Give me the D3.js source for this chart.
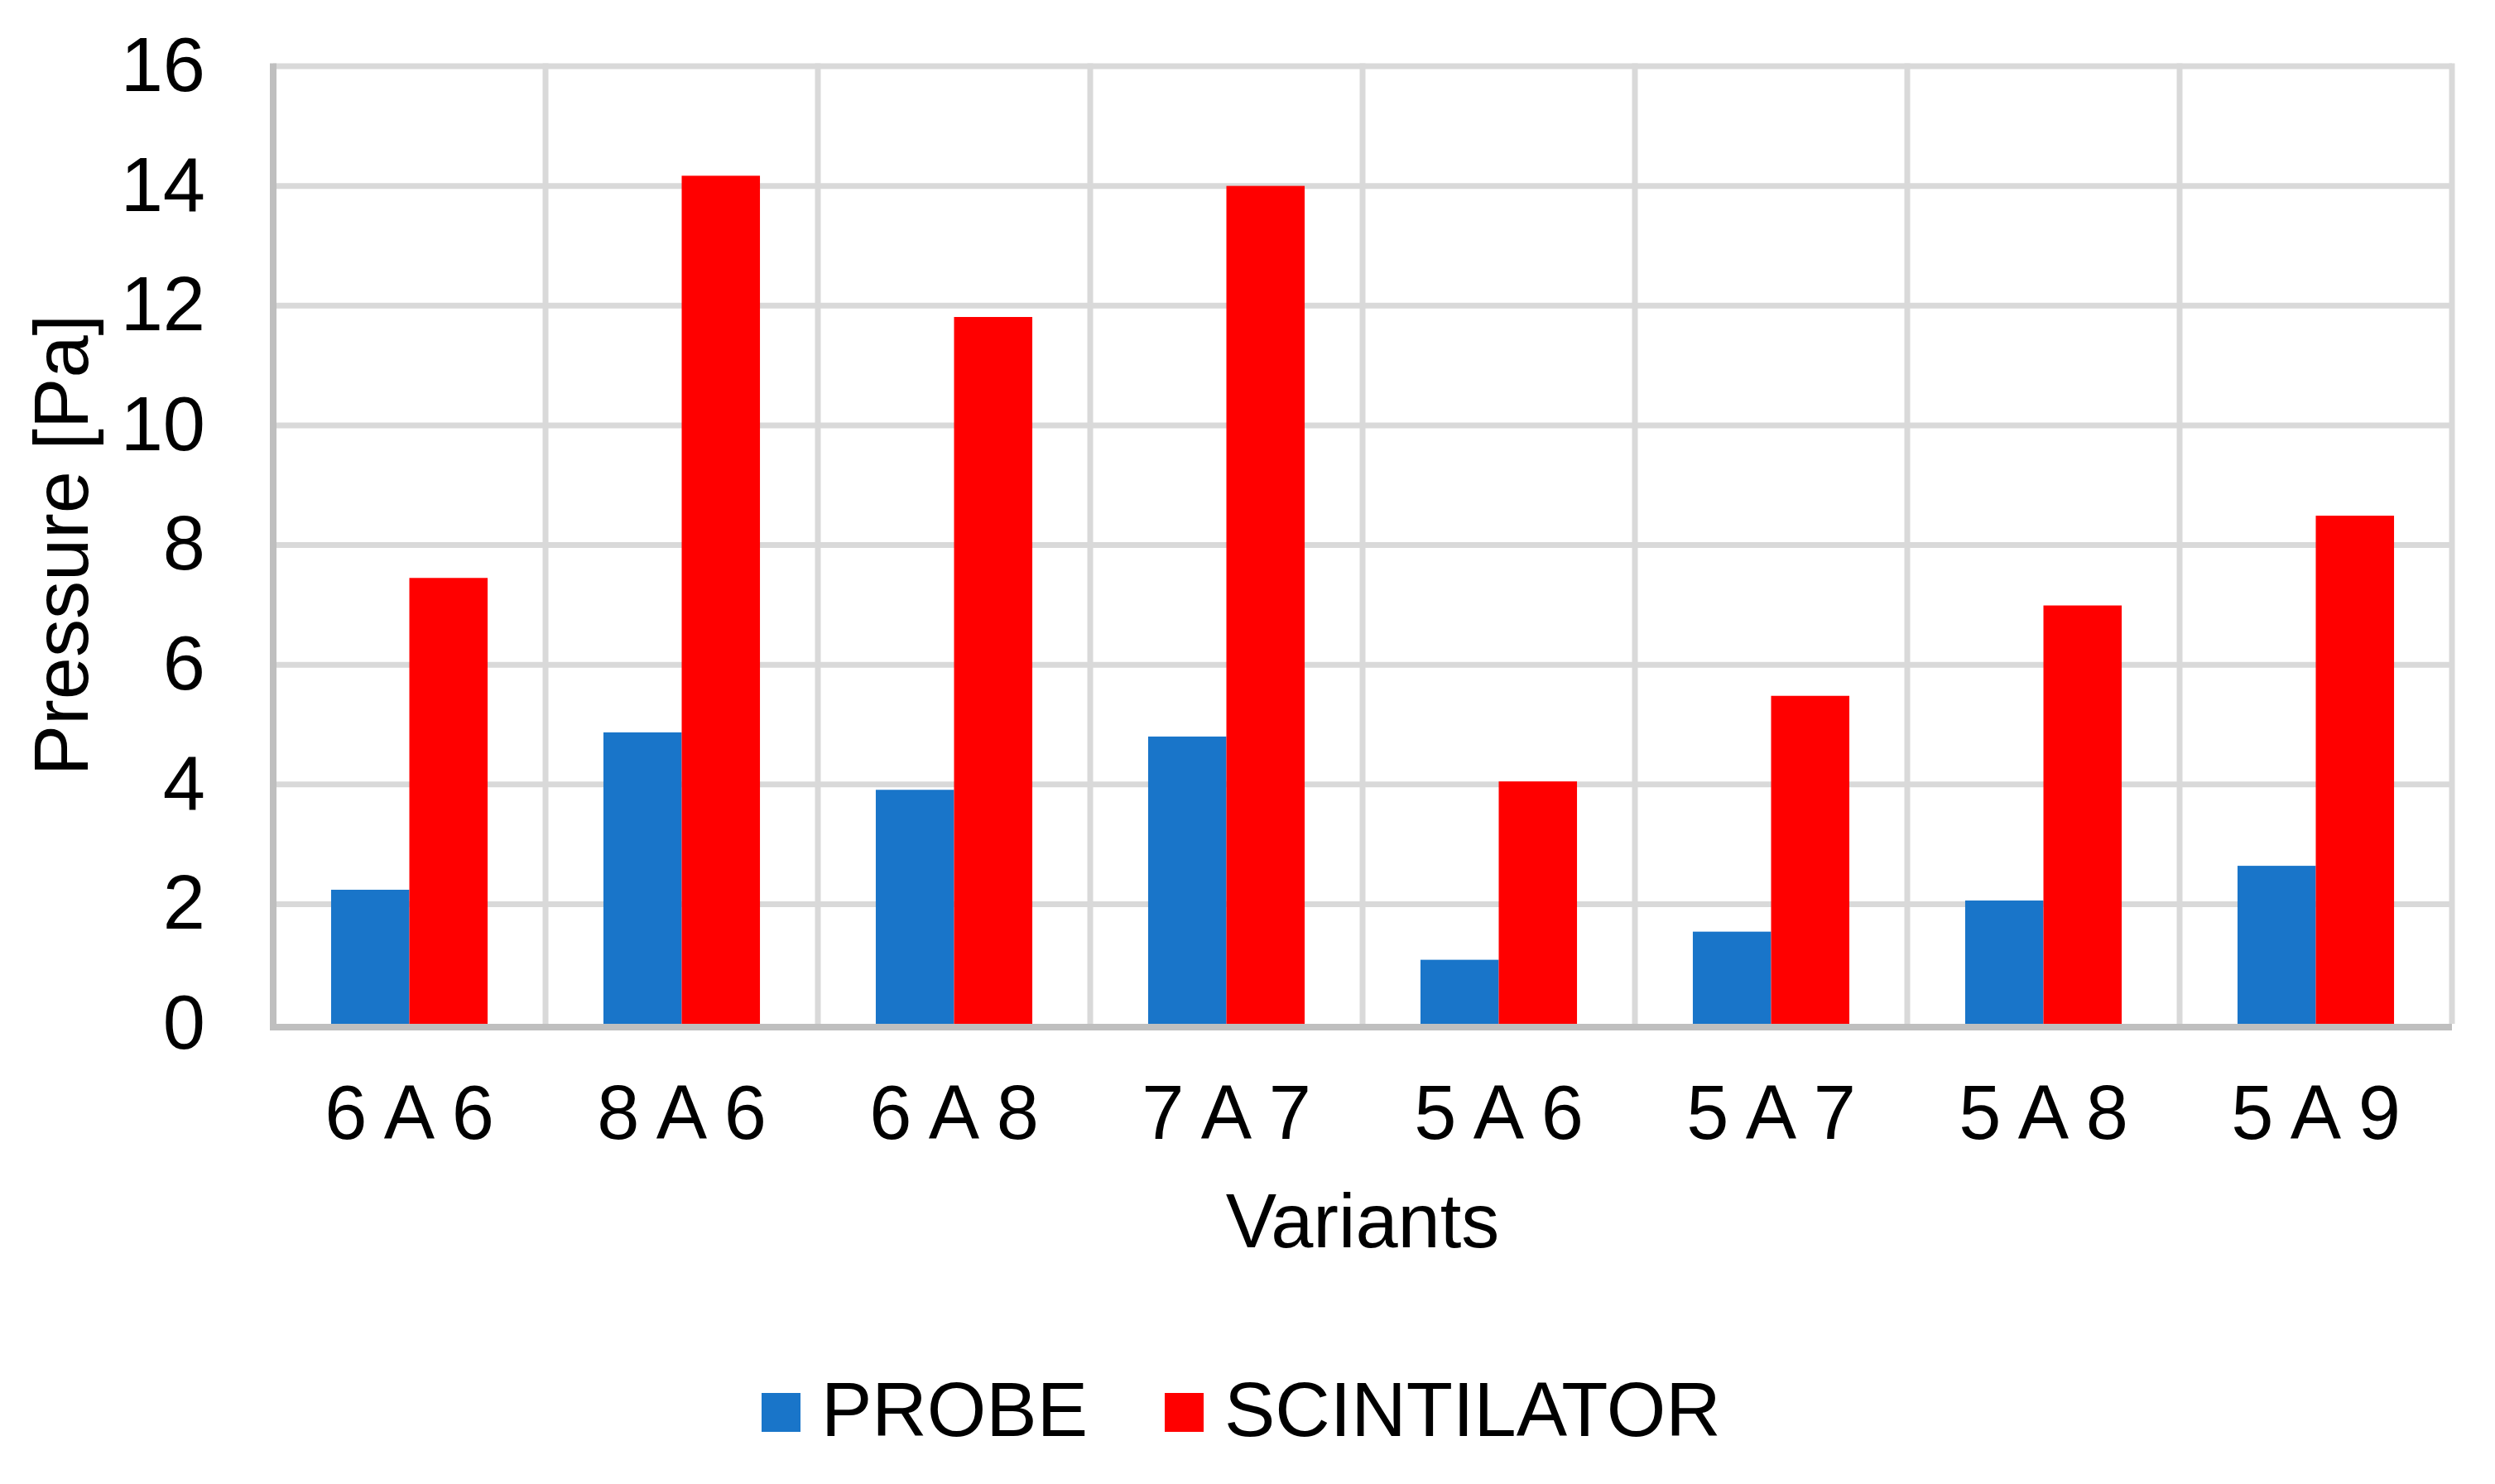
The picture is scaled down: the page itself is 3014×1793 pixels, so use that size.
<!DOCTYPE html>
<html>
<head>
<meta charset="utf-8">
<script src="https://cdn.jsdelivr.net/npm/d3@7"></script>
<style>
  html, body { margin: 0; padding: 0; background: #ffffff; }
  svg { display: block; }
  text { font-family: "Liberation Sans", Arial, sans-serif; fill: #000000; }
</style>
</head>
<body>
<script>
// ---- Data ----
const categories = ["6 A 6", "8 A 6", "6 A 8", "7 A 7", "5 A 6", "5 A 7", "5 A 8", "5 A 9"];
const seriesNames = ["PROBE", "SCINTILATOR"];
const probeValues = [2.24, 4.87, 3.91, 4.80, 1.07, 1.54, 2.06, 2.64];
const scintilatorValues = [7.45, 14.17, 11.81, 14.00, 4.05, 5.48, 6.99, 8.49];
const yTicks = [0, 2, 4, 6, 8, 10, 12, 14, 16];
const seriesColors = ["#1975c9", "#ff0000"];
const xTitle = "Variants";
const yTitle = "Pressure [Pa]";

// ---- Layout ----
const W = 3014, H = 1793;
const plot = { left: 330, right: 2962, top: 80, bottom: 1237 };
const fontSize = 92;

const svg = d3.select("body").append("svg")
  .attr("width", W).attr("height", H);

const x0 = d3.scaleBand().domain(categories).range([plot.left, plot.right]).padding(0);
const x1 = d3.scaleBand().domain(seriesNames).range([0, x0.bandwidth()])
  .paddingInner(0).paddingOuter(0.74);
const y = d3.scaleLinear().domain([0, 16]).range([plot.bottom, plot.top]);

// ---- Gridlines ----
const grid = svg.append("g");
grid.selectAll("line.h").data(yTicks.filter(d => d > 0)).join("line")
  .attr("x1", plot.left).attr("x2", plot.right)
  .attr("y1", d => y(d)).attr("y2", d => y(d))
  .attr("stroke", "#d9d9d9").attr("stroke-width", 7);
const vLines = categories.slice(1).map(c => x0(c)).concat([plot.right]);
grid.selectAll("line.v").data(vLines).join("line")
  .attr("x1", d => d).attr("x2", d => d)
  .attr("y1", plot.top - 3.5).attr("y2", plot.bottom)
  .attr("stroke", "#d9d9d9").attr("stroke-width", 7);

// ---- Bars ----
const data = categories.map((c, i) => ({
  cat: c,
  vals: [
    { s: seriesNames[0], v: probeValues[i] },
    { s: seriesNames[1], v: scintilatorValues[i] }
  ]
}));
const groups = svg.append("g").selectAll("g").data(data).join("g")
  .attr("transform", d => `translate(${x0(d.cat)},0)`);
groups.selectAll("rect").data(d => d.vals).join("rect")
  .attr("x", d => x1(d.s))
  .attr("width", x1.bandwidth())
  .attr("y", d => y(d.v))
  .attr("height", d => y(0) - y(d.v))
  .attr("fill", (d, i) => seriesColors[i]);

// ---- Axis lines ----
svg.append("line")
  .attr("x1", plot.left).attr("x2", plot.left)
  .attr("y1", plot.top - 3.5).attr("y2", plot.bottom + 4)
  .attr("stroke", "#bfbfbf").attr("stroke-width", 8);
svg.append("line")
  .attr("x1", plot.left - 4).attr("x2", plot.right)
  .attr("y1", plot.bottom + 4).attr("y2", plot.bottom + 4)
  .attr("stroke", "#bfbfbf").attr("stroke-width", 8);

// ---- Axes (labels) ----
const yAxis = svg.append("g")
  .attr("transform", `translate(${plot.left},0)`)
  .call(d3.axisLeft(y).tickValues(yTicks).tickFormat(d3.format("d")).tickSize(0).tickPadding(82));
yAxis.select(".domain").remove();
yAxis.selectAll("text")
  .attr("font-size", fontSize)
  .attr("font-family", "Liberation Sans, Arial, sans-serif")
  .attr("fill", "#000");

const xAxis = svg.append("g")
  .attr("transform", `translate(0,${plot.bottom})`)
  .call(d3.axisBottom(x0).tickSize(0).tickPadding(74));
xAxis.select(".domain").remove();
xAxis.selectAll("text")
  .attr("font-size", fontSize)
  .attr("font-family", "Liberation Sans, Arial, sans-serif")
  .attr("fill", "#000");

// ---- Titles ----
svg.append("text")
  .attr("x", (plot.left + plot.right) / 2).attr("y", 1507)
  .attr("text-anchor", "middle")
  .attr("font-size", fontSize)
  .text(xTitle);

svg.append("text")
  .attr("transform", `translate(106,${(plot.top + plot.bottom) / 2}) rotate(-90)`)
  .attr("text-anchor", "middle")
  .attr("font-size", fontSize)
  .text(yTitle);

// ---- Legend ----
const legendItems = [
  { name: seriesNames[0], color: seriesColors[0], x: 920 },
  { name: seriesNames[1], color: seriesColors[1], x: 1407 }
];
const lg = svg.append("g").selectAll("g").data(legendItems).join("g")
  .attr("transform", d => `translate(${d.x},0)`);
lg.append("rect")
  .attr("x", 0).attr("y", 1683).attr("width", 47).attr("height", 47)
  .attr("fill", d => d.color);
lg.append("text")
  .attr("x", 72).attr("y", 1735)
  .attr("font-size", fontSize)
  .text(d => d.name);
</script>
</body>
</html>
